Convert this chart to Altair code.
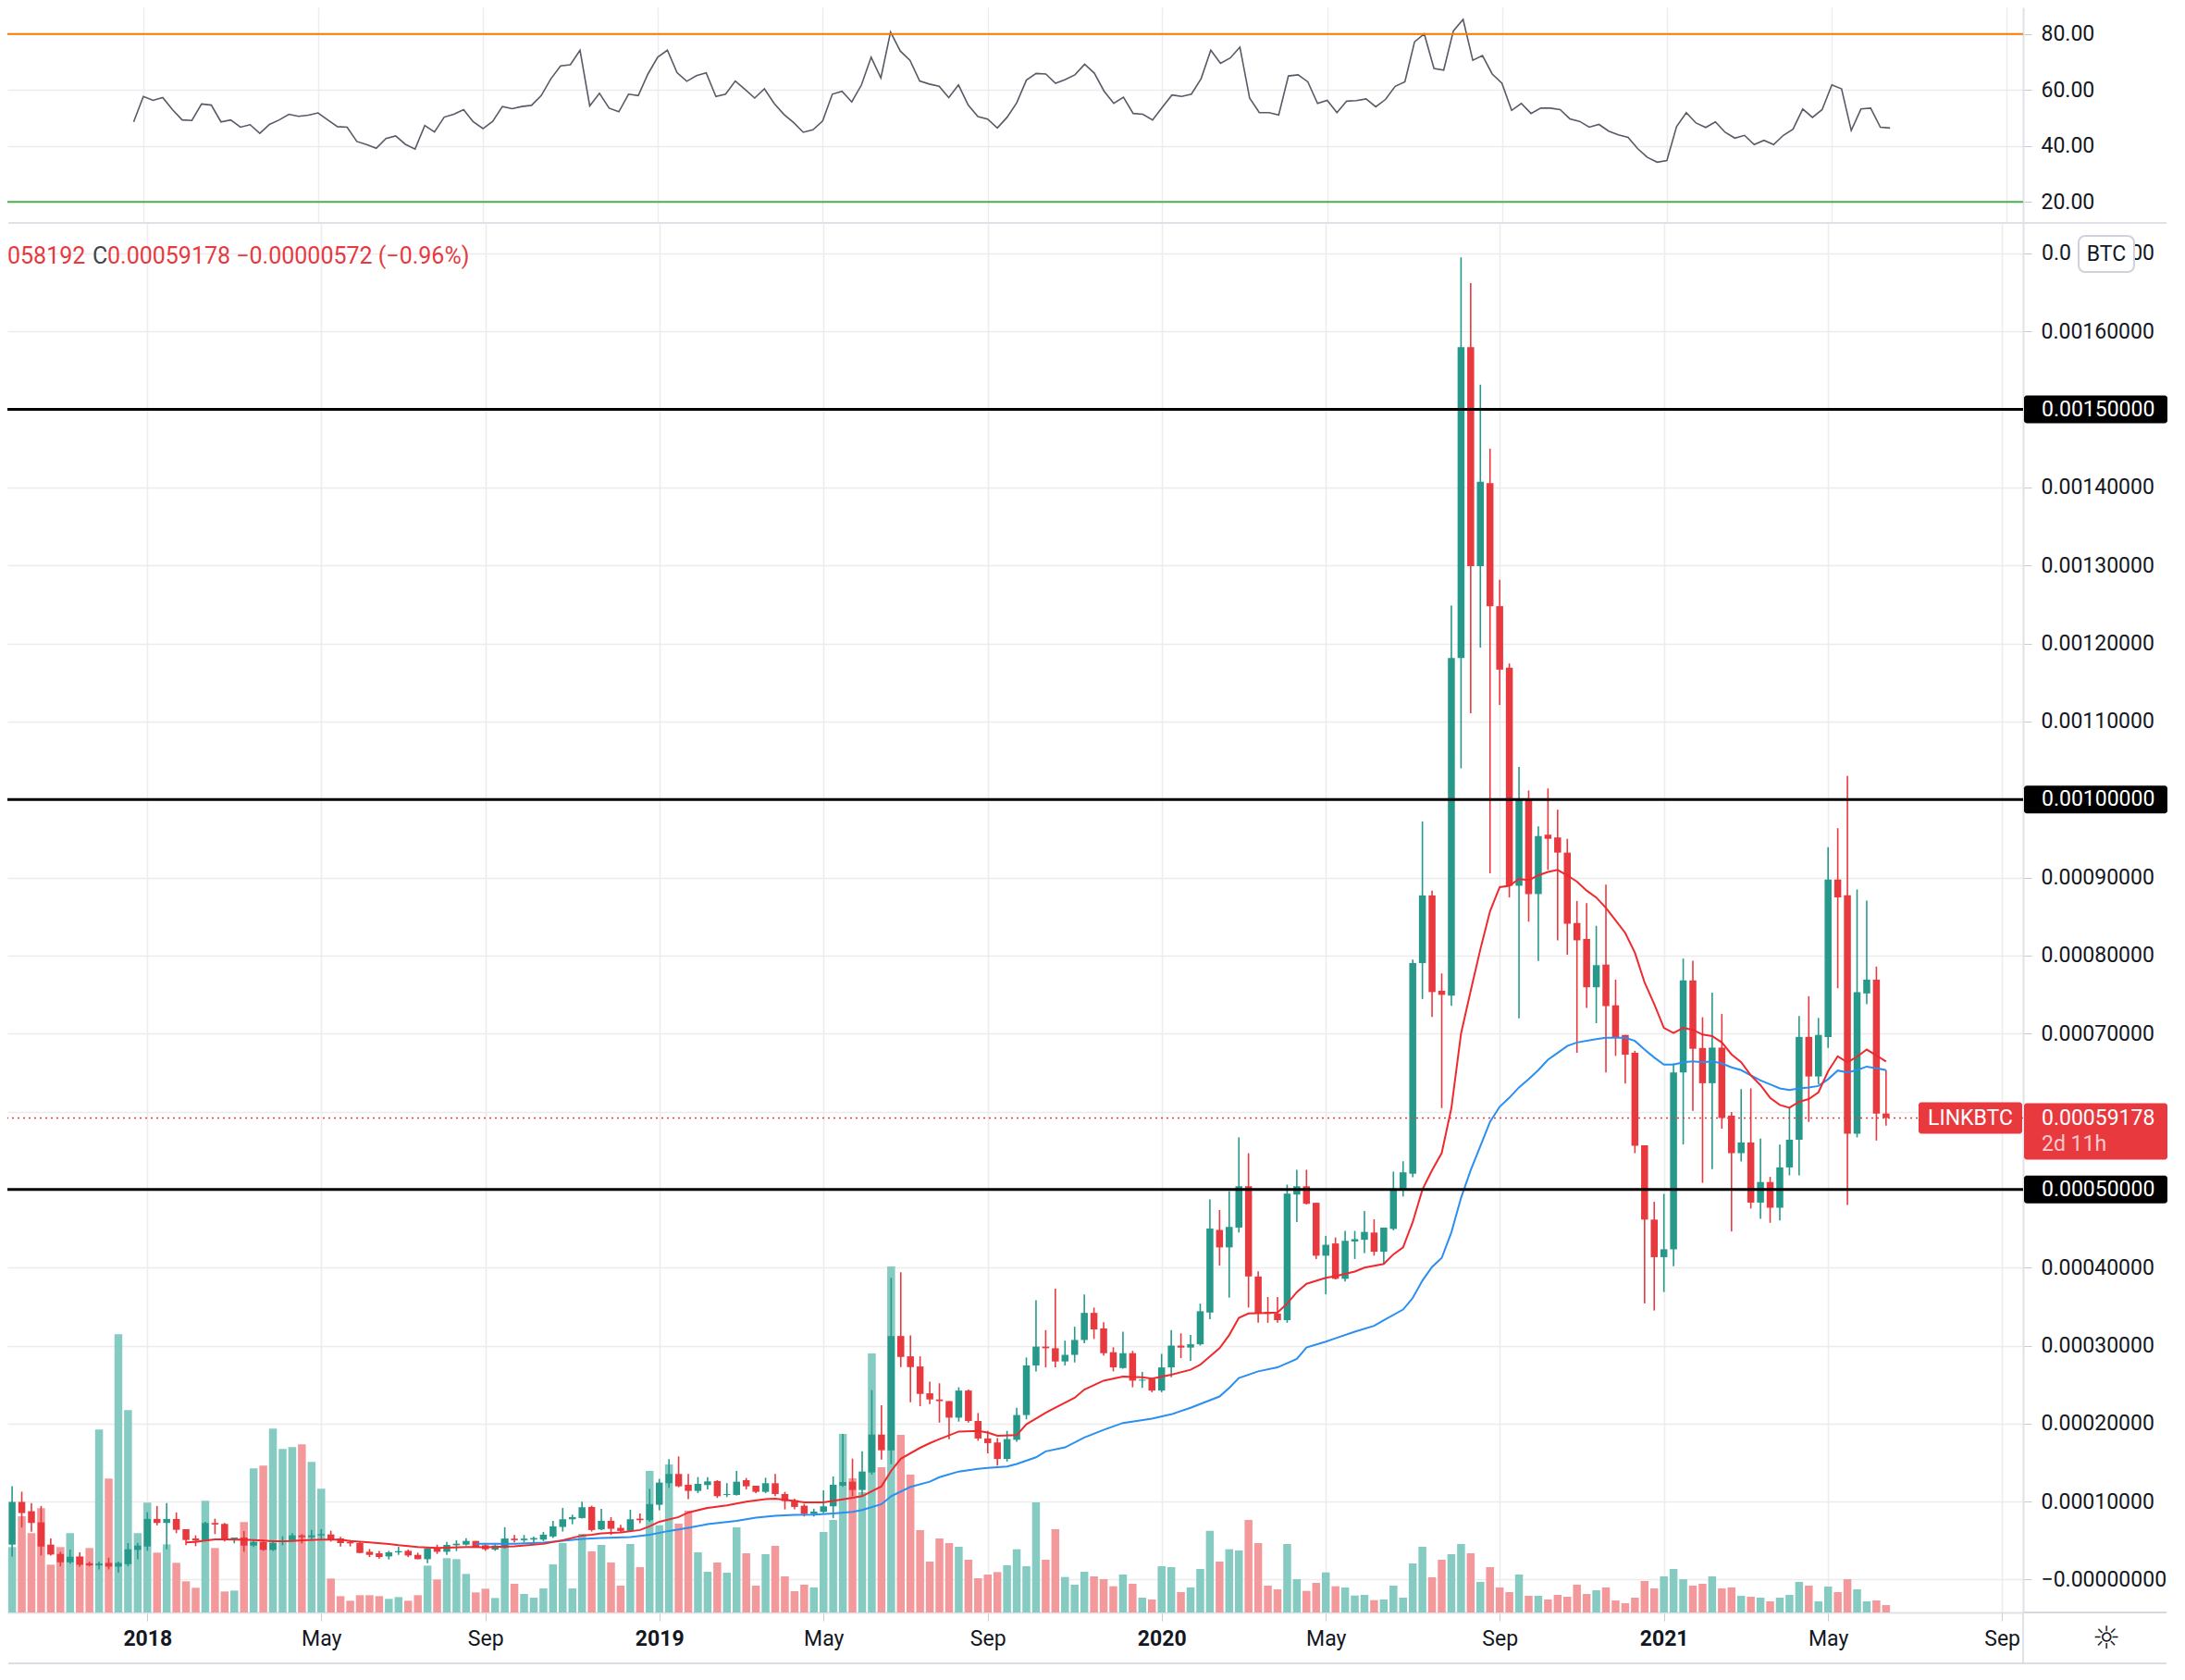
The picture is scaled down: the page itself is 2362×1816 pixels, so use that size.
import altair as alt
import pandas as pd

# ---------------- data (weekly LINK/BTC bars, prices in 1e-8 BTC) ----------------
FIRST_BAR = "2017-09-18"   # first weekly bar (index -15 relative to 2018-01-01)
OFFSET = 15

open_sat = [
    3860, 4484, 9960, 8769, 7341, 4484, 3293, 2222, 2936, 2100, 1825, 2143, 1667, 1984, 3809,
    4246, 7777, 7261, 7777, 6468, 5277, 5000, 7261, 7142, 5198,
    5396, 4365, 4801, 3809, 4801, 5000, 5674, 5436, 5674, 5793,
    5277, 4843, 4682, 3571, 3373, 2976, 3492, 3690, 3174, 2619,
    4087, 3571, 4405, 4484, 4960, 4405, 3849, 4066, 5251, 5054,
    5132, 5132, 5527, 6751, 7738, 7896, 9317, 6435, 7541, 6633,
    6238, 7817, 7620, 9594, 12357, 13542, 12160, 11370, 12120, 12633,
    10857, 10857, 12752, 12041, 11252, 12357, 10975, 10186, 9475, 8409,
    8685, 9396, 12041, 12554, 11489, 13739, 18595, 16581, 31229, 28623,
    27320, 23885, 23092, 22880, 20761, 24236, 20338, 18092, 17583, 15465,
    17922, 21100, 27456, 29871, 29659, 27964, 28812, 30718, 34192, 32201,
    29150, 27117, 29023, 25507, 25719, 24236, 27202, 29998, 29744, 30167,
    34235, 44827, 42582, 45124, 50420, 38853, 34319, 34107, 33261, 49360,
    50420, 48302, 41523, 43090, 38557, 43344, 43556, 44488, 42031, 44955,
    50000, 52036, 79028, 87701, 75488, 74869, 118145, 157970, 129916, 140536,
    124783, 116906, 88940, 100091, 87878, 95489, 95135, 93188, 84161, 82126,
    75931, 78837, 73617, 69816, 67535, 55676, 46148, 41333, 42347, 65001,
    76810, 68143, 63633, 68194, 59477, 54663, 56031, 48328, 50963, 47669,
    52838, 56386, 69562, 64494, 69562, 89734, 87706, 57146, 75137, 76911,
    59750,
]
high_sat = [
    4700, 11983, 11269, 9801, 9444, 5277, 3571, 3849, 3492, 2300, 2300, 2817, 2300, 4682, 4722,
    8650, 9444, 9801, 8611, 6468, 5674, 7420, 7817, 7261, 5396,
    6230, 5079, 5079, 5079, 5555, 5952, 5833, 6388, 6468, 6269,
    5476, 5079, 4801, 3928, 3690, 3690, 4206, 3849, 3452, 4206,
    4484, 4841, 5039, 5317, 4960, 4563, 4523, 6711, 5725, 5725,
    5527, 6119, 7541, 9199, 8330, 9988, 9475, 9080, 8014, 7028,
    8962, 8488, 11646, 12910, 15437, 15792, 13542, 13147, 13147, 12752,
    12357, 13936, 13028, 12041, 13068, 13542, 11252, 10383, 9712, 9080,
    11449, 13226, 18674, 15516, 16463, 24280, 22345, 38690, 39401, 31308,
    28623, 25385, 25168, 22880, 24659, 24363, 21354, 19067, 18134, 19067,
    22032, 28473, 35802, 31989, 37285, 30633, 32413, 36565, 34870, 33006,
    29786, 31777, 29320, 26608, 25846, 28939, 31989, 31566, 31354, 35379,
    48725, 47369, 49784, 56691, 54657, 39531, 36226, 36226, 50632, 52539,
    52539, 48302, 44064, 43853, 44700, 44700, 47242, 46183, 45124, 52301,
    53629, 79470, 97171, 88321, 77701, 124871, 169475, 166201, 153191, 144961,
    128146, 117437, 104162, 101153, 96551, 101419, 98675, 94958, 86993, 86727,
    83808, 89074, 76911, 69816, 67789, 55676, 48429, 49442, 66167, 79597,
    79344, 72096, 75238, 72502, 59933, 62873, 62974, 56538, 51622, 55777,
    60440, 72249, 74782, 71995, 93889, 96323, 103011, 88466, 87048, 78584,
    65305,
]
low_sat = [
    3700, 2976, 6666, 6150, 3095, 3095, 1706, 2024, 1667, 1700, 1310, 1310, 913, 1706, 2619,
    3690, 6944, 3889, 5952, 4405, 4285, 4880, 5833, 4880, 4643,
    3571, 4166, 3690, 3690, 4405, 5000, 4643, 5198, 5198, 4880,
    4246, 4246, 3412, 2896, 2698, 2579, 3174, 2896, 2619, 2103,
    3293, 3174, 3650, 4365, 4206, 3690, 3690, 3948, 4777, 4777,
    4777, 4935, 5330, 6159, 7106, 7817, 6159, 6356, 5725, 6119,
    6238, 7225, 7422, 8883, 11765, 11844, 10304, 11094, 11568, 10462,
    10581, 10778, 11568, 11094, 11094, 10699, 9001, 9001, 8093, 8093,
    8527, 7896, 11883, 10699, 10778, 13463, 15397, 14805, 27241, 22741,
    22227, 22504, 20126, 18007, 20253, 20126, 17795, 16185, 14617, 15126,
    17668, 20549, 26693, 27202, 27202, 27456, 27837, 30294, 30845, 28727,
    26693, 27032, 24659, 24575, 24024, 24024, 25931, 28389, 28050, 29998,
    33388, 40251, 36142, 44488, 34870, 32921, 32921, 32921, 32921, 45845,
    48090, 41099, 36565, 38472, 38218, 41099, 41862, 41523, 40378, 44778,
    49115, 51593, 74426, 72125, 60443, 73541, 103985, 111065, 119473, 90533,
    112128, 87435, 71948, 84338, 79293, 90975, 81948, 80090, 67523, 73276,
    71329, 65001, 67130, 63582, 54663, 35404, 34492, 36874, 40168, 55777,
    60085, 50862, 52635, 57805, 44628, 53598, 47567, 46250, 45742, 46047,
    51825, 51825, 58666, 63481, 68143, 75795, 48023, 56690, 73769, 56284,
    58192,
]
close_sat = [
    4500, 9960, 8531, 7261, 4246, 3214, 2222, 2936, 1905, 1825, 2063, 1667, 2143, 3889, 4365,
    7777, 7261, 7777, 6388, 5079, 5000, 7261, 7063, 5079, 5396,
    4365, 4801, 3809, 4682, 5000, 5674, 5436, 5674, 5833, 5079,
    4682, 4646, 3412, 3174, 2896, 3492, 3650, 3095, 2619, 4008,
    3571, 4444, 4603, 4960, 4206, 3889, 4365, 5251, 5054, 5251,
    5330, 5764, 6830, 7738, 8014, 9278, 6356, 7541, 6514, 6238,
    7738, 7620, 9673, 12436, 13542, 11962, 11370, 12278, 12594, 10699,
    10975, 12554, 11962, 11252, 12357, 10975, 10067, 9317, 8409, 8725,
    9396, 12160, 12515, 11489, 13858, 18595, 16581, 31229, 28544, 27241,
    23806, 23096, 22880, 20761, 24236, 20338, 18092, 17499, 15465, 18007,
    21100, 27456, 29871, 29659, 27964, 28812, 30718, 34192, 32074, 29023,
    27202, 29023, 25507, 25634, 24236, 27202, 29998, 29744, 30167, 34404,
    44997, 42582, 45209, 50420, 38853, 34192, 34065, 33261, 49488, 50420,
    48175, 41523, 42921, 38557, 43429, 43641, 44573, 42031, 45124, 50000,
    52213, 79028, 87701, 75311, 74957, 118145, 157970, 129916, 140713, 124783,
    116641, 88940, 100091, 87878, 95312, 94958, 93188, 84073, 81948, 75931,
    78763, 73516, 69461, 67282, 55625, 46148, 41333, 42347, 65001, 76810,
    68042, 63633, 68194, 59173, 54663, 56031, 48328, 50963, 47669, 52838,
    56386, 69562, 64494, 69816, 89734, 87453, 57146, 75289, 76911, 59750,
    59178,
]
volume = [
    10, 212, 312, 257, 338, 155, 212, 257, 182, 209, 593, 434, 902, 656, 257,
    356, 194, 221, 161, 101, 80, 362, 209, 68, 71,
    293, 467, 476, 596, 530, 536, 545, 488, 401, 110,
    53, 38, 56, 56, 53, 44, 50, 38, 56, 152,
    107, 176, 173, 125, 65, 77, 47, 240, 93, 60,
    48, 78, 156, 225, 78, 255, 198, 219, 162, 87,
    222, 147, 459, 283, 480, 288, 330, 195, 132, 162,
    129, 276, 192, 87, 189, 216, 117, 69, 90, 81,
    261, 300, 579, 435, 390, 840, 471, 1122, 576, 447,
    267, 165, 240, 225, 213, 171, 111, 123, 131, 153,
    205, 150, 357, 171, 270, 115, 90, 132, 117, 108,
    85, 123, 93, 48, 42, 150, 147, 66, 81, 141,
    265, 165, 205, 201, 300, 225, 87, 75, 222, 108,
    70, 96, 130, 85, 81, 55, 57, 40, 42, 87,
    48, 159, 213, 114, 171, 189, 222, 192, 99, 147,
    81, 66, 123, 54, 54, 42, 57, 51, 90, 60,
    72, 81, 39, 30, 48, 102, 78, 117, 141, 108,
    87, 93, 117, 78, 81, 54, 51, 48, 36, 48,
    57, 99, 87, 36, 84, 66, 108, 75, 36, 39,
    24,
]
# RSI(14), from week index -1 (2017-12-25) to 180
rsi_vals = [
    48.6, 57.7, 56.3, 57.3, 53.0, 49.3, 49.1, 55.0, 54.6, 48.6, 49.3,
    46.7, 47.6, 44.5, 47.7, 49.3, 51.3, 50.6, 51.0, 51.8, 49.3,
    46.9, 46.7, 41.6, 40.5, 39.2, 42.7, 43.6, 40.6, 38.9, 47.3,
    45.0, 50.3, 51.3, 53.0, 48.6, 46.2, 48.8, 54.1, 53.3, 54.1,
    54.5, 58.0, 64.0, 68.6, 69.0, 74.2, 54.3, 58.8, 53.5, 52.2,
    58.5, 58.0, 65.7, 71.7, 74.2, 66.2, 63.1, 65.1, 66.1, 57.7,
    58.5, 63.2, 60.2, 57.1, 60.4, 55.2, 51.3, 48.4, 44.9, 45.8,
    48.9, 58.5, 59.5, 55.7, 61.8, 71.7, 64.3, 80.7, 73.9, 70.6,
    63.2, 62.1, 61.3, 57.3, 61.8, 54.6, 50.5, 49.6, 46.4, 50.2,
    55.4, 63.5, 65.9, 65.7, 62.4, 63.7, 65.4, 69.2, 66.0, 59.6,
    55.2, 57.4, 51.6, 51.3, 49.3, 53.8, 58.2, 57.7, 58.5, 64.0,
    74.2, 69.5, 71.4, 75.3, 57.1, 51.9, 51.9, 51.1, 65.0, 65.4,
    62.9, 55.2, 56.3, 51.9, 56.0, 56.2, 56.8, 54.0, 56.6, 61.3,
    62.9, 77.2, 80.0, 67.7, 67.1, 81.1, 85.2, 70.6, 72.3, 65.7,
    62.4, 52.7, 55.2, 51.6, 53.5, 53.5, 53.0, 49.7, 48.8, 46.7,
    47.7, 45.3, 44.0, 43.1, 39.0, 35.9, 34.2, 34.8, 46.9, 51.9,
    48.2, 46.6, 48.6, 44.9, 42.8, 43.8, 40.5, 42.0, 40.5, 43.8,
    46.0, 53.2, 50.2, 53.0, 61.8, 60.4, 45.5, 53.2, 53.5, 46.7,
    46.4,
]
# red moving average: week index -> value
ema20_idx = [4, 5, 6, 7, 8, 10, 12, 13, 15, 16, 18, 20, 21, 23, 25, 26, 28, 30, 31, 33, 35, 38,
             41, 43, 45, 46, 47, 49, 51, 52, 53, 55, 56, 58, 60, 62, 64, 65, 67, 68, 70, 71, 72,
             74, 76, 77, 78, 80, 81, 82, 84, 86, 87, 88, 90, 91, 93, 94, 96, 97, 99, 101, 103,
             104, 106, 108, 109, 111, 112, 113, 114, 116, 117, 118, 119, 120, 122, 123, 125,
             126, 128, 129, 130, 131, 132, 133, 134, 135, 136, 137, 138, 139, 140, 141, 142,
             143, 144, 145, 146, 147, 148, 149, 150, 151, 152, 153, 154, 155, 156, 157, 158,
             159, 160, 161, 162, 163, 164, 165, 166, 167, 168, 169, 170, 171, 172, 173, 174,
             175, 176, 177, 178, 179, 180]
ema20_sat = [4764, 4843, 5000, 5157, 5157, 5118, 5000, 4921, 4961, 5039, 5118, 5118, 4961, 4764,
             4567, 4409, 4173, 4055, 4094, 4173, 4150, 4264, 4580, 5053, 5646, 5764, 5922, 6040,
             6356, 6830, 7422, 8014, 8607, 9199, 9515, 9988, 10304, 10383, 10067, 9909, 9909,
             10107, 10300, 10699, 11962, 13936, 15500, 16897, 17490, 18007, 18982, 19067,
             18855, 18431, 18516, 19914, 21397, 22032, 23304, 24363, 25507, 26015, 25931,
             25761, 26269, 26905, 27541, 29659, 31354, 33557, 34108, 34193, 34235, 35379,
             36862, 37921, 38684, 38896, 39489, 39997, 40463, 41692, 42600, 45840, 50000,
             52478, 54690, 60443, 70001, 75488, 80798, 85666, 88763, 88940, 89825, 89648,
             90268, 90710, 90975, 90268, 89471, 88321, 87436, 86108, 84515, 82891, 80357,
             76556, 73769, 70728, 70069, 70728, 70475, 69866, 69664, 68853, 67333, 66319,
             64647, 63380, 61758, 60846, 60491, 61251, 61606, 62467, 65153, 67079, 66319,
             67028, 67941, 67181, 66420]
# blue moving average
ema50_idx = [34, 36, 38, 41, 43, 45, 47, 50, 52, 54, 56, 58, 61, 63, 65, 67, 69, 71, 73, 74, 76,
             77, 79, 81, 82, 84, 86, 87, 89, 90, 92, 93, 95, 97, 99, 101, 104, 106, 108, 111,
             112, 113, 115, 117, 119, 120, 122, 123, 125, 127, 128, 130, 131, 132, 133, 134,
             135, 136, 137, 138, 139, 140, 141, 142, 143, 144, 145, 146, 147, 148, 150, 151,
             153, 154, 155, 156, 157, 158, 159, 160, 161, 162, 163, 164, 165, 166, 167, 168,
             169, 170, 171, 172, 173, 174, 175, 176, 177, 178, 179, 180]
ema50_sat = [4606, 4580, 4580, 4738, 4974, 5211, 5330, 5448, 5764, 6238, 6633, 7106, 7541, 7935,
             8172, 8291, 8330, 8488, 8686, 8922, 9673, 10699, 11883, 12554, 13135, 13855, 14194,
             14321, 14491, 14830, 15677, 16440, 16948, 18219, 19194, 20083, 20634, 21185,
             22032, 23473, 24575, 25846, 26693, 27202, 28303, 29744, 30506, 30930, 31778,
             32540, 33260, 34616, 36106, 38318, 40088, 41239, 44513, 48938, 52478, 55576,
             58673, 60620, 61771, 63098, 64160, 65311, 66638, 67523, 68408, 68851, 69293,
             69470, 69462, 69056, 67941, 66927, 66015, 66015, 66319, 66420, 66319, 66420,
             66167, 65660, 65305, 64647, 63988, 63481, 62974, 62771, 62974, 63076, 63278,
             64140, 65255, 65001, 65305, 65761, 65559, 65305]

levels = [0.0005, 0.0010, 0.0015]
last_price = 0.00059178
price_ticks = [round(k * 0.0001, 4) for k in range(18)]
hidden_ticks = [5, 6, 10, 15, 17]          # labels covered by the boxes (in 1e-4 BTC)
rsi_ticks = [20, 40, 60, 80]
month_ticks = [(2018, 1, 1), (2018, 5, 7), (2018, 9, 3), (2019, 1, 7), (2019, 5, 6), (2019, 9, 2),
               (2020, 1, 6), (2020, 5, 4), (2020, 9, 7), (2021, 1, 4), (2021, 5, 3), (2021, 9, 6)]

# ---------------- frames ----------------
bar_dates = pd.date_range(FIRST_BAR, periods=len(open_sat), freq="7D").strftime("%Y-%m-%d").tolist()
candles = pd.DataFrame({
    "date": bar_dates,
    "open": [v / 1e8 for v in open_sat],
    "high": [v / 1e8 for v in high_sat],
    "low": [v / 1e8 for v in low_sat],
    "close": [v / 1e8 for v in close_sat],
    "volume": volume,
})
rsi_df = pd.DataFrame({"date": bar_dates[OFFSET - 1:], "rsi": rsi_vals})
ema20_df = pd.DataFrame({"date": [bar_dates[i + OFFSET] for i in ema20_idx],
                         "value": [v / 1e8 for v in ema20_sat]})
ema50_df = pd.DataFrame({"date": [bar_dates[i + OFFSET] for i in ema50_idx],
                         "value": [v / 1e8 for v in ema50_sat]})
levels_df = pd.DataFrame({"level": levels, "label": [f"{v:.8f}" for v in levels]})
last_df = pd.DataFrame({"level": [last_price], "label": [f"{last_price:.8f}"], "timer": ["2d 11h"]})
one = pd.DataFrame({"k": [0]})

# ---------------- style ----------------
W, H_RSI, H_MAIN = 2179, 233, 1502
GREEN, RED = "#26998a", "#e8393f"
VOL_UP, VOL_DN = "#85cbc2", "#f3999b"
GRID, SEP, TICK, TXT = "#ececec", "#dfe1e6", "#c9cbd1", "#131722"
FONT = "Roboto"
FS = 23
RIGHT = 2334   # right end of full-width separators (px from plot origin)

x_dom = [alt.DateTime(year=2017, month=9, date=24, hours=22, minutes=19, utc=True),
         alt.DateTime(year=2021, month=9, date=17, hours=23, minutes=17, utc=True)]
x_scale = alt.Scale(type="utc", domain=x_dom)
tick_vals = [alt.DateTime(year=y, month=m, date=d, utc=True) for (y, m, d) in month_ticks]

x_axis_main = alt.Axis(
    values=tick_vals, title=None, grid=True, gridColor=GRID, gridWidth=1.5,
    labelExpr="utcmonth(datum.value) == 0 ? utcFormat(datum.value, '%Y') : utcFormat(datum.value, '%b')",
    labelFontWeight={"condition": {"test": "utcmonth(datum.value) == 0", "value": "bold"}, "value": "normal"},
    labelFontSize=FS, labelColor=TXT, labelFont=FONT, labelPadding=8, labelFlush=False,
    labelOverlap=False, tickSize=9, tickColor=TICK, domainColor=SEP, domainWidth=2,
)
x_axis_rsi = alt.Axis(values=tick_vals, title=None, grid=True, gridColor=GRID, gridWidth=1.5,
                      labels=False, ticks=False, domain=False)
hidden_js = "[" + ",".join(str(h) for h in hidden_ticks) + "]"
y_axis_main = alt.Axis(
    orient="right", values=price_ticks, title=None, grid=True, gridColor=GRID, gridWidth=1.5,
    labelExpr=("indexof(" + hidden_js + ", round(datum.value * 10000)) >= 0 ? '' : "
               "(datum.value == 0 ? '\u22120.00000000' : format(datum.value, '.8f'))"),
    labelFontSize=FS, labelColor=TXT, labelFont=FONT, labelPadding=10, labelFlush=False,
    labelOverlap=False, tickSize=9, tickColor=TICK, domainColor=SEP, domainWidth=2,
)
y_axis_rsi = alt.Axis(
    orient="right", values=rsi_ticks, format=".2f", title=None, grid=True, gridColor=GRID,
    gridWidth=1.5, labelFontSize=FS, labelColor=TXT, labelFont=FONT, labelPadding=10,
    labelFlush=False, labelOverlap=False, tickSize=9, tickColor=TICK, domainColor=SEP, domainWidth=2,
)

y_scale = alt.Scale(domain=[-0.0000421, 0.0017390], nice=False, zero=False)
x_main = alt.X("date:T", scale=x_scale, axis=x_axis_main)
up = alt.condition("datum.close >= datum.open", alt.value(GREEN), alt.value(RED))
up_vol = alt.condition("datum.close >= datum.open", alt.value(VOL_UP), alt.value(VOL_DN))


def py(field):
    return alt.Y(field, scale=y_scale, axis=y_axis_main)


def txt(s, x, y, color=TXT, size=FS, align="left", font=FONT):
    return alt.Chart(one).mark_text(color=color, fontSize=size, font=font, align=align,
                                    baseline="middle").encode(
        x=alt.value(x), y=alt.value(y), text=alt.value(s))


def price_box(df, color, x0, x1, top, bottom, radius=3):
    # rectangle anchored on a price level, extended by pixel offsets above / below
    return alt.Chart(df).mark_rect(color=color, yOffset=-top, y2Offset=bottom,
                                   cornerRadius=radius).encode(
        y=py("level:Q"), y2="level:Q", x=alt.value(x0), x2=alt.value(x1))


def hline(y, x0, x1, color=SEP):
    return alt.Chart(one).mark_rule(color=color, strokeWidth=2).encode(
        x=alt.value(x0), x2=alt.value(x1), y=alt.value(y))


# ---------------- main pane ----------------
vol_layer = alt.Chart(candles).mark_bar(size=8.5, clip=True).encode(
    x=x_main,
    y=alt.Y("volume:Q", scale=alt.Scale(domain=[0, 3 * H_MAIN], nice=False), axis=None),
    color=up_vol,
)
wicks = alt.Chart(candles).mark_rule(strokeWidth=1.6, clip=True).encode(
    x=x_main, y=py("low:Q"), y2="high:Q", color=up)
bodies = alt.Chart(candles).mark_bar(size=7.5, clip=True).encode(
    x=x_main, y=py("open:Q"), y2="close:Q", color=up)
ema50_line = alt.Chart(ema50_df).mark_line(color="#2a8ff0", strokeWidth=2, clip=True).encode(
    x=x_main, y=py("value:Q"))
ema20_line = alt.Chart(ema20_df).mark_line(color="#ee2a2f", strokeWidth=2, clip=True).encode(
    x=x_main, y=py("value:Q"))
level_lines = alt.Chart(levels_df).mark_rule(color="black", strokeWidth=3, clip=True).encode(
    y=py("level:Q"))
price_line = alt.Chart(last_df).mark_rule(color=RED, strokeWidth=1.5, strokeDash=[2, 4],
                                          clip=True).encode(y=py("level:Q"))

level_boxes = price_box(levels_df, "black", W + 1, W + 156, 15, 15)
level_text = alt.Chart(levels_df).mark_text(color="white", fontSize=FS, font=FONT, align="left",
                                            baseline="middle").encode(
    y=py("level:Q"), x=alt.value(W + 20), text="label:N")
last_box = price_box(last_df, RED, W + 1, W + 156, 16, 45)
last_text = alt.Chart(last_df).mark_text(color="white", fontSize=FS, font=FONT, align="left",
                                         baseline="middle", yOffset=1).encode(
    y=py("level:Q"), x=alt.value(W + 20), text="label:N")
timer_text = alt.Chart(last_df).mark_text(color="#f9c9cb", fontSize=FS, font=FONT, align="left",
                                          baseline="middle", yOffset=29).encode(
    y=py("level:Q"), x=alt.value(W + 20), text="timer:N")
sym_box = price_box(last_df, RED, W - 113, W - 1, 17, 17)
sym_text = alt.Chart(last_df).mark_text(color="white", fontSize=FS, font=FONT, align="center",
                                        baseline="middle", yOffset=1).encode(
    y=py("level:Q"), x=alt.value(W - 57), text=alt.value("LINKBTC"))

# top price label partly hidden behind the currency box
top_left_part = txt("0.0", W + 20, 33)
top_right_part = txt("00", W + 142, 33, align="right")
btc_box = alt.Chart(one).mark_rect(fill="white", stroke="#cfd2da", strokeWidth=2, cornerRadius=7).encode(
    x=alt.value(W + 60), x2=alt.value(W + 120), y=alt.value(14), y2=alt.value(53))
btc_text = txt("BTC", W + 90, 34, align="center")

legend_l = txt("058192", 0, 36, color=RED, size=25)
legend_c = txt("C", 92, 36, color="#434651", size=25)
legend_v = txt("0.00059178 \u22120.00000572 (\u22120.96%)", 108, 36, color=RED, size=25)

BOTTOM = 1557   # bottom border of the time-axis strip
pane_sep = hline(0, 1, RIGHT)
time_sep = hline(H_MAIN, W, RIGHT, color="#d6d8dd")
bottom_line = hline(BOTTOM, 1, RIGHT, color="#d9dde6")
axis_sep = alt.Chart(one).mark_rule(color=SEP, strokeWidth=2).encode(
    x=alt.value(W), y=alt.value(H_MAIN), y2=alt.value(BOTTOM))
gear = txt("\u263c", W + 90, H_MAIN + 29, size=34, align="center", font="DejaVu Sans")

price_group = alt.layer(
    wicks, bodies, ema50_line, ema20_line, level_lines, price_line,
    level_boxes, level_text, last_box, last_text, timer_text, sym_box, sym_text,
    top_left_part, top_right_part, btc_box, btc_text,
    legend_l, legend_c, legend_v, pane_sep, time_sep, bottom_line, axis_sep, gear,
)
main = alt.layer(vol_layer, price_group).resolve_scale(y="independent").properties(
    width=W, height=H_MAIN)

# ---------------- RSI pane ----------------
rsi_scale = alt.Scale(domain=[12.51, 89.48], nice=False, zero=False)
rsi_line = alt.Chart(rsi_df).mark_line(color="#575b66", strokeWidth=1.6, clip=True).encode(
    x=alt.X("date:T", scale=x_scale, axis=x_axis_rsi),
    y=alt.Y("rsi:Q", scale=rsi_scale, axis=y_axis_rsi),
)
band_df = pd.DataFrame({"lvl": [80, 20], "col": ["#f57c00", "#4caf50"]})
rsi_bands = alt.Chart(band_df).mark_rule(strokeWidth=2, clip=True).encode(
    y=alt.Y("lvl:Q", scale=rsi_scale, axis=y_axis_rsi),
    color=alt.Color("col:N", scale=None),
)
rsi_chart = alt.layer(rsi_line, rsi_bands).properties(width=W, height=H_RSI)

chart = (
    alt.vconcat(rsi_chart, main, spacing=0, bounds="flush")
    .properties(padding=0)
    .configure(font=FONT)
    .configure_view(stroke=None)
)
chart.save("out.html", embed_options={"renderer": "svg", "actions": False})
